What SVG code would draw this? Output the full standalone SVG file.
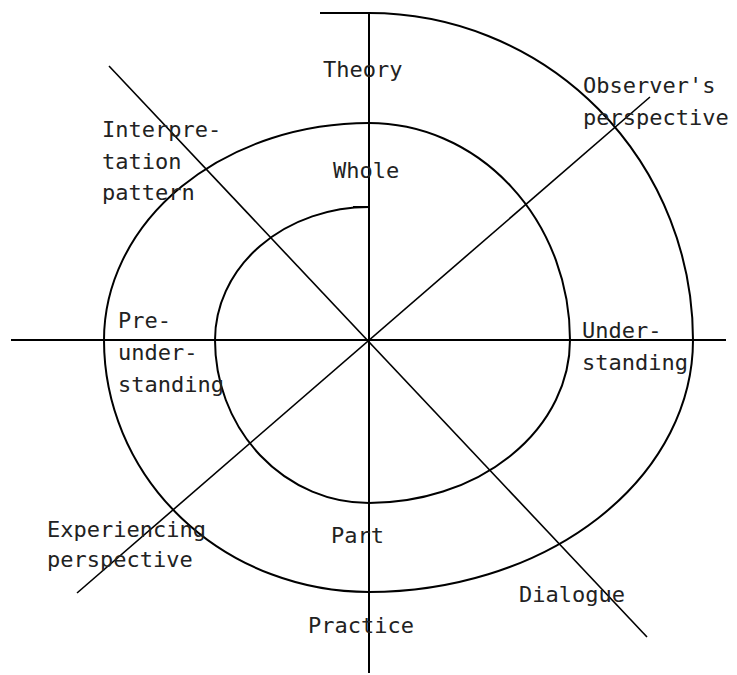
<svg xmlns="http://www.w3.org/2000/svg" width="737" height="675" viewBox="0 0 737 675">
<style>
.ln{stroke:#000;fill:none;stroke-width:2}
.dg{stroke:#000;fill:none;stroke-width:1.6}
.sp{stroke:#000;fill:none;stroke-width:2}
text{font-family:"DejaVu Sans Mono","Liberation Mono",monospace;font-size:22px;fill:#222}
</style>
<rect width="737" height="675" fill="#fff"/>
<g id="connectors">
<line class="ln" x1="369" y1="13" x2="369" y2="673"/>
<line class="ln" x1="11" y1="340" x2="726" y2="340"/>
<line class="dg" x1="109" y1="66" x2="647" y2="637"/>
<line class="dg" x1="77" y1="593" x2="650" y2="97"/>
<path class="sp" d="M353 207 L369 207 A154 133 0 0 0 215 340 A154 163 0 0 0 369 503 A201 163 0 0 0 570 340 A201 217 0 0 0 369 123 A265 217 0 0 0 104 340 A265 252 0 0 0 369 592 A324 252 0 0 0 693 340 A324 327 0 0 0 369 13 L320 13"/>
</g>
<g id="theory"><text x="323" y="77">Theory</text></g>
<g id="whole"><text x="333" y="178">Whole</text></g>
<g id="interpretation-pattern"><text x="102" y="137">Interpre-</text><text x="102" y="169">tation</text><text x="102" y="200">pattern</text></g>
<g id="observers-perspective"><text x="583" y="93">Observer's</text><text x="583" y="125">perspective</text></g>
<g id="pre-understanding"><text x="118" y="328">Pre-</text><text x="118" y="360">under-</text><text x="118" y="392">standing</text></g>
<g id="understanding"><text x="582" y="338">Under-</text><text x="582" y="370">standing</text></g>
<g id="experiencing-perspective"><text x="47" y="537">Experiencing</text><text x="47" y="567">perspective</text></g>
<g id="part"><text x="331" y="543">Part</text></g>
<g id="dialogue"><text x="519" y="602">Dialogue</text></g>
<g id="practice"><text x="308" y="633">Practice</text></g>
</svg>
